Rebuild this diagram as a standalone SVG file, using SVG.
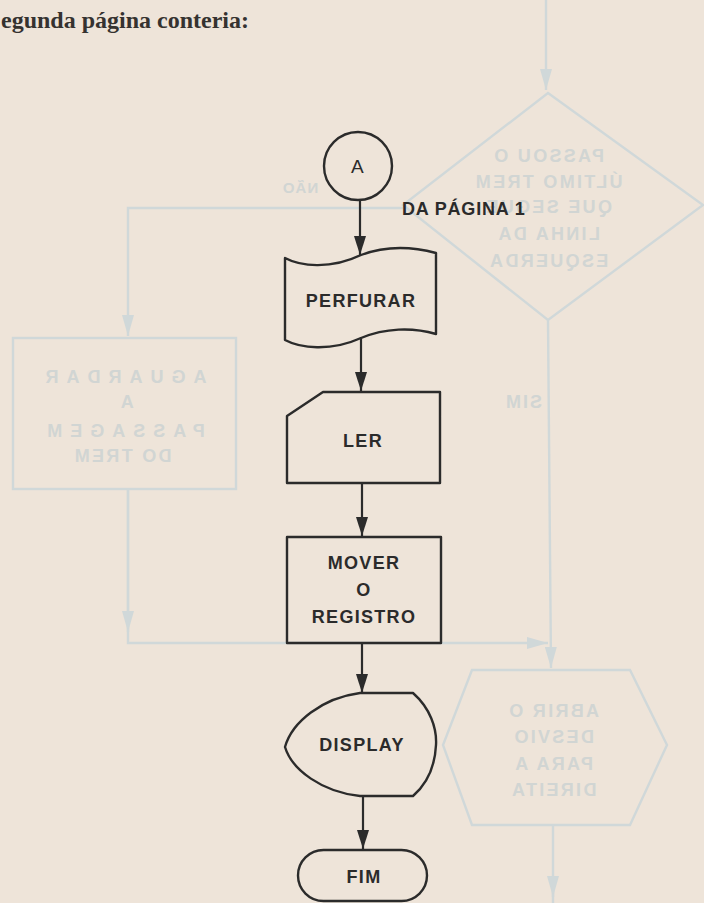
<svg xmlns="http://www.w3.org/2000/svg" width="704" height="903" viewBox="0 0 704 903">
<style>
.bg{fill:#eee4d9}
.shape{fill:none;stroke:#2b2b2b;stroke-width:2.4;stroke-linejoin:round}
.conn{fill:none;stroke:#2b2b2b;stroke-width:2.2}
.lbl{font-family:"Liberation Sans",Arial,sans-serif;font-weight:bold;font-size:18px;letter-spacing:1.3px;fill:#2b2b2b;text-anchor:middle}
.head{font-family:"Liberation Serif","Times New Roman",serif;font-weight:bold;font-size:24px;fill:#353230}
.g-line{fill:none;stroke:#d0d8d9;stroke-width:2.4}
.g-txt{font-family:"Liberation Sans",Arial,sans-serif;font-weight:bold;font-size:18px;letter-spacing:2.3px;fill:#d1d5d3;text-anchor:middle}
</style>
<defs>
<marker id="arr" markerUnits="userSpaceOnUse" markerWidth="20" markerHeight="12" refX="19" refY="6" orient="auto">
<path d="M0,0 L19,6 L0,12 Z" fill="#2b2b2b"/>
</marker>
<marker id="garr" markerUnits="userSpaceOnUse" markerWidth="22" markerHeight="12" refX="21" refY="6" orient="auto">
<path d="M0,0 L21,6 L0,12 Z" fill="#d0d8d9"/>
</marker>
</defs>
<rect class="bg" x="0" y="0" width="704" height="903"/>

<g id="show-through">
<path class="g-line" d="M546,0 L546,90" marker-end="url(#garr)"/>
<polygon class="g-line" points="548,93 703,205 548,320 403,205"/>
<g transform="matrix(-1 0 0 1 1096 0)">
<text class="g-txt" x="548" y="162">PASSOU O</text>
<text class="g-txt" x="548" y="188">ÚLTIMO TREM</text>
<text class="g-txt" x="548" y="213">QUE SEGUE</text>
<text class="g-txt" x="548" y="240">LINHA DA</text>
<text class="g-txt" x="548" y="267">ESQUERDA</text>
</g>
<path class="g-line" d="M403,208 L128,208 L128,336" marker-end="url(#garr)"/>
<text class="g-txt" transform="matrix(-1 0 0 1 600 0)" x="300" y="193" style="font-size:15px;letter-spacing:1px">NÃO</text>
<rect class="g-line" x="13" y="338" width="223" height="151"/>
<g transform="matrix(-1 0 0 1 244 0)">
<text class="g-txt" x="122" y="383" style="letter-spacing:8px">AGUARDAR</text>
<text class="g-txt" x="118" y="408">A</text>
<text class="g-txt" x="122" y="437" style="letter-spacing:8px">PASSAGEM</text>
<text class="g-txt" x="122" y="462">DO TREM</text>
</g>
<path class="g-line" d="M128,489 L128,643 L548,643" marker-end="url(#garr)"/>
<path class="g-line" d="M128,489 L128,632" marker-end="url(#garr)"/>
<path class="g-line" d="M548,320 L551,668" marker-end="url(#garr)"/>
<text class="g-txt" transform="matrix(-1 0 0 1 1046 0)" x="523" y="408" style="letter-spacing:2px">SIM</text>
<polygon class="g-line" points="472,670 630,670 667,745 630,825 472,825 443,745"/>
<g transform="matrix(-1 0 0 1 1106 0)">
<text class="g-txt" x="553" y="717">ABRIR O</text>
<text class="g-txt" x="553" y="743">DESVIO</text>
<text class="g-txt" x="553" y="770">PARA A</text>
<text class="g-txt" x="553" y="796">DIREITA</text>
</g>
<path class="g-line" d="M553,880 L553,903"/>
<path class="g-line" d="M553,825 L553,897" marker-end="url(#garr)"/>
</g>

<text class="head" x="1" y="28">egunda página conteria:</text>

<g id="connectors">
<path class="conn" d="M360,200 L360,255" marker-end="url(#arr)"/>
<path class="conn" d="M361,337 L361,391" marker-end="url(#arr)"/>
<path class="conn" d="M362,483 L362,536" marker-end="url(#arr)"/>
<path class="conn" d="M362,643 L362,693" marker-end="url(#arr)"/>
<path class="conn" d="M363,796 L363,849" marker-end="url(#arr)"/>
</g>

<g id="node-a">
<circle class="shape" cx="358" cy="166" r="34"/>
<text class="lbl" x="358" y="173" style="font-weight:normal;font-size:19px">A</text>
<text class="lbl" x="402" y="215" style="text-anchor:start;letter-spacing:0.8px">DA PÁGINA 1</text>
</g>

<g id="node-perfurar">
<path class="shape" d="M285,258 C300,266 330,270 361,255 C385,246 410,246 436,253 L436,334 C412,327 385,328 361,338 C330,352 300,348 285,340 Z"/>
<text class="lbl" x="361" y="307">PERFURAR</text>
</g>

<g id="node-ler">
<polygon class="shape" points="323,392 440,392 440,483 287,483 287,416"/>
<text class="lbl" x="363" y="447">LER</text>
</g>

<g id="node-mover">
<rect class="shape" x="287" y="537" width="154" height="106"/>
<text class="lbl" x="364" y="569">MOVER</text>
<text class="lbl" x="364" y="596">O</text>
<text class="lbl" x="364" y="623">REGISTRO</text>
</g>

<g id="node-display">
<path class="shape" d="M360,693 L413,693 C430,708 437,728 436,745 C435,765 428,783 413,796 L360,796 C322,792 292,770 285,747 C292,722 322,698 360,693 Z"/>
<text class="lbl" x="362" y="751">DISPLAY</text>
</g>

<g id="node-fim">
<rect class="shape" x="298" y="850" width="129" height="51" rx="25.5"/>
<text class="lbl" x="364" y="883">FIM</text>
</g>
</svg>
